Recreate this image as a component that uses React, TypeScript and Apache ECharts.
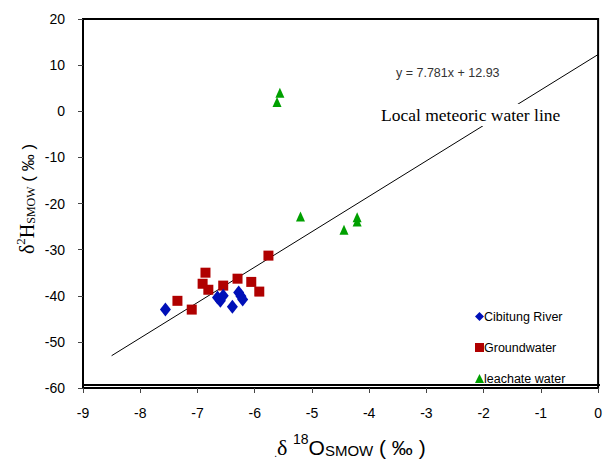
import React, { useEffect, useRef } from "react";
import * as echarts from "echarts";

const riverData: [number, number][] = [
  [-7.56, -43.0],
  [-6.65, -40.4],
  [-6.6, -41.1],
  [-6.55, -40.0],
  [-6.39, -42.4],
  [-6.28, -39.3],
  [-6.24, -40.1],
  [-6.21, -40.8],
];
const groundData: [number, number][] = [
  [-7.35, -41.1],
  [-7.1, -43.0],
  [-6.86, -35.0],
  [-6.91, -37.4],
  [-6.81, -38.7],
  [-6.55, -37.8],
  [-6.3, -36.3],
  [-6.06, -37.0],
  [-5.92, -39.1],
  [-5.76, -31.3],
];
const leachateData: [number, number][] = [
  [-5.61, 2.0],
  [-5.56, 4.0],
  [-5.2, -22.8],
  [-4.44, -25.7],
  [-4.21, -23.0],
  [-4.21, -23.9],
];
const lineData: [number, number][] = [
  [-8.5, -53.0],
  [0, 12.3],
];
const seriesNames = ["Cibitung River", "Groundwater", "leachate water"];
const equationText = "y = 7.781x + 12.93";
const lineLabel = "Local meteoric water line";

const SANS = "Liberation Sans";
const SERIF = "Liberation Serif";

export default function App() {
  const ref = useRef<HTMLDivElement>(null);
  useEffect(() => {
    if (!ref.current) return;
    const chart = echarts.init(ref.current, null, { renderer: "svg" });
    const tok = (fontFamily: string, fontSize: number, verticalAlign: string, lineHeight: number) => ({
      fontFamily,
      fontSize,
      fontWeight: "normal",
      lineHeight,
      verticalAlign,
    });
    chart.setOption({
      animation: false,
      backgroundColor: "#fff",
      grid: {
        left: 83,
        right: 5,
        top: 19,
        bottom: 74,
        show: true,
        borderColor: "#000",
        borderWidth: 2,
      },
      xAxis: {
        type: "value",
        min: -9,
        max: 0,
        interval: 1,
        axisLine: { show: true, onZero: false, lineStyle: { color: "#000", width: 2 } },
        axisTick: { show: true, length: 5, lineStyle: { color: "#444" } },
        axisLabel: { color: "#000", fontFamily: SANS, fontSize: 14, margin: 18 },
        splitLine: { show: false },
      },
      yAxis: {
        type: "value",
        min: -60,
        max: 20,
        interval: 10,
        axisLine: { show: true, onZero: false, lineStyle: { color: "#000", width: 2 } },
        axisTick: { show: true, length: 5, lineStyle: { color: "#444" } },
        axisLabel: { color: "#000", fontFamily: SANS, fontSize: 14, margin: 18 },
        splitLine: { show: false },
      },
      legend: {
        orient: "vertical",
        left: 470,
        top: 305,
        itemGap: 18,
        itemWidth: 9,
        itemHeight: 9,
        itemStyle: { borderWidth: 0 },
        textStyle: { color: "#000", fontFamily: SANS, fontSize: 12.5, padding: [0, 0, 0, -5] },
        data: [
          { name: seriesNames[0], icon: "diamond" },
          { name: seriesNames[1], icon: "rect" },
          { name: seriesNames[2], icon: "triangle" },
        ],
      },
      series: [
        {
          name: "line",
          type: "line",
          data: lineData,
          showSymbol: false,
          silent: true,
          lineStyle: { color: "#000", width: 1 },
          z: 1,
        },
        {
          name: seriesNames[0],
          type: "scatter",
          symbol: "diamond",
          symbolSize: [11, 14],
          data: riverData,
          itemStyle: { color: "#0010B8", opacity: 1 },
          z: 3,
        },
        {
          name: seriesNames[1],
          type: "scatter",
          symbol: "rect",
          symbolSize: 10,
          data: groundData,
          itemStyle: { color: "#B00000", opacity: 1 },
          z: 2,
        },
        {
          name: seriesNames[2],
          type: "scatter",
          symbol: "triangle",
          symbolSize: [9, 10],
          data: leachateData,
          itemStyle: { color: "#00A000", opacity: 1 },
          z: 2,
        },
      ],
      graphic: [
        {
          type: "line",
          shape: { x1: 83, y1: 385, x2: 600, y2: 385 },
          style: { stroke: "#000", lineWidth: 2 },
          z: 10,
        },
        {
          type: "text",
          x: 396,
          y: 73,
          style: {
            text: equationText,
            fill: "#333",
            fontFamily: SANS,
            fontSize: 12.5,
            fontWeight: "normal",
            textVerticalAlign: "middle",
          },
          z: 10,
        },
        {
          type: "text",
          x: 379,
          y: 115,
          style: {
            text: lineLabel,
            fill: "#000",
            fontFamily: SERIF,
            fontSize: 17.5,
            fontWeight: "normal",
            textVerticalAlign: "middle",
            backgroundColor: "#fff",
            padding: [2, 2, 2, 2],
          },
          z: 10,
        },
        {
          type: "text",
          x: 25,
          y: 199,
          rotation: Math.PI / 2,
          style: {
            text: "{d|δ}{sup|2}{d|H}{sub|SMOW}{p| ( ‰ )}",
            fill: "#000",
            textAlign: "center",
            textVerticalAlign: "middle",
            rich: {
              d: tok(SERIF, 20, "bottom", 23),
              sup: tok(SERIF, 13, "top", 23),
              sub: tok(SERIF, 12, "bottom", 23),
              p: tok(SANS, 17, "bottom", 23),
            },
          },
          z: 10,
        },
        {
          type: "text",
          x: 350,
          y: 445,
          style: {
            text: "{dot|.}{d|δ }{sup|18}{o|O}{sub|SMOW}{o| ( ‰ )}",
            fill: "#000",
            textAlign: "center",
            textVerticalAlign: "middle",
            rich: {
              dot: tok(SANS, 10, "bottom", 26),
              d: tok(SERIF, 22, "bottom", 26),
              sup: tok(SANS, 14, "top", 26),
              o: tok(SANS, 21, "bottom", 26),
              sub: tok(SANS, 15, "bottom", 26),
            },
          },
          z: 10,
        },
      ],
    });
    return () => chart.dispose();
  }, []);
  return (
    <div
      ref={ref}
      style={{ position: "fixed", left: 0, top: 0, width: 605, height: 462 }}
    />
  );
}
